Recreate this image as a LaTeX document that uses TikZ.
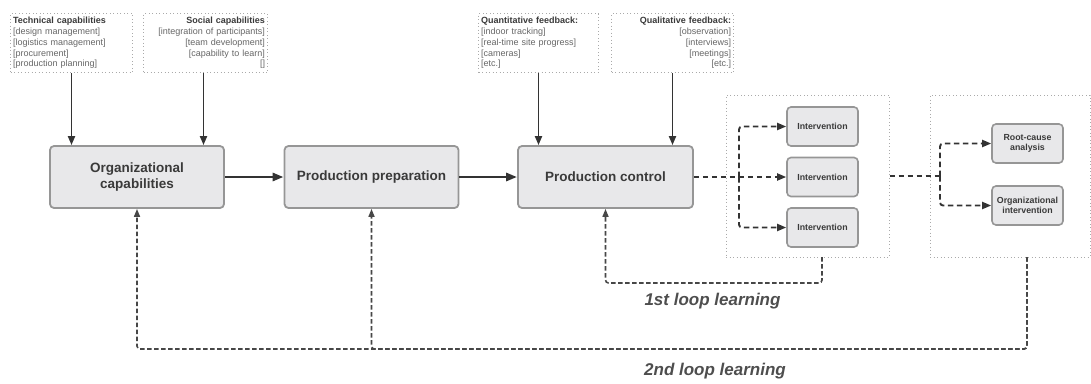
\documentclass[tikz,border=0pt]{standalone}
\usepackage{fontspec}
\setmainfont{Liberation Sans}
\usetikzlibrary{arrows.meta,calc}
\definecolor{boxfill}{HTML}{E8E8EA}
\definecolor{boxdraw}{HTML}{969696}
\definecolor{txtdark}{HTML}{3A3A3A}
\definecolor{txtgray}{HTML}{666666}
\definecolor{linedark}{HTML}{333333}
\definecolor{dotgray}{HTML}{AAAAAA}
\tikzset{
  mainbox/.style={draw=boxdraw, fill=boxfill, line width=1.8pt, rounded corners=4pt,
    minimum width=174pt, minimum height=62pt, align=center, text=txtdark,
    font=\fontsize{13.5}{16}\selectfont\bfseries},
  smallbox/.style={draw=boxdraw, fill=boxfill, line width=1.6pt, rounded corners=4pt,
    minimum width=71pt, minimum height=39pt, align=center, text=txtdark, inner sep=1pt,
    font=\fontsize{8.8}{10}\selectfont\bfseries},
  infobox/.style={draw=dotgray, line width=1pt, dash pattern=on 0.9pt off 2.6pt,
    minimum height=59pt, inner xsep=2.5pt, inner ysep=0pt, text=txtgray,
    font=\fontsize{9}{10.7}\selectfont},
  container/.style={draw=dotgray, line width=1pt, dash pattern=on 0.9pt off 2.6pt},
  feed/.style={draw=linedark, line width=1.9pt, -{Triangle[length=9pt,width=7pt]}},
  flow/.style={draw=linedark, line width=2.8pt, -{Triangle[length=11pt,width=8pt]}},
  dashflow/.style={draw=linedark, line width=1.9pt, dash pattern=on 5.5pt off 3.5pt,
    rounded corners=3pt, -{Triangle[length=9pt,width=7pt]}},
  loopline/.style={draw=linedark!90, line width=1.6pt, dash pattern=on 4.5pt off 2.5pt,
    rounded corners=3pt},
  looplabel/.style={text=txtdark!90, font=\fontsize{17}{20}\selectfont\bfseries\itshape},
}
\begin{document}
\begin{tikzpicture}[x=1pt,y=-1pt]
\useasboundingbox (0,0) rectangle (1091,383);

% top info boxes
\node[infobox, text width=117pt, align=left, anchor=north west] (tech) at (10,13)
  {\textcolor{txtdark}{\textbf{Technical capabilities}}\\{[}design management{]}\\{[}logistics management{]}\\{[}procurement{]}\\{[}production planning{]}};
\node[infobox, text width=119pt, align=right, anchor=north west] (soc) at (143,13)
  {\textcolor{txtdark}{\textbf{Social capabilities}}\\{[}integration of participants{]}\\{[}team development{]}\\{[}capability to learn{]}\\{[]}};
\node[infobox, text width=115pt, align=left, anchor=north west] (quant) at (478,13)
  {\textcolor{txtdark}{\textbf{Quantitative feedback:}}\\{[}indoor tracking{]}\\{[}real-time site progress{]}\\{[}cameras{]}\\{[}etc.{]}};
\node[infobox, text width=117pt, align=right, anchor=north west] (qual) at (611,13)
  {\textcolor{txtdark}{\textbf{Qualitative feedback:}}\\{[}observation{]}\\{[}interviews{]}\\{[}meetings{]}\\{[}etc.{]}};

% main boxes
\node[mainbox] (org) at (137,177) {Organizational\\capabilities};
\node[mainbox] (prep) at (371.5,177) {Production preparation};
\node[mainbox, minimum width=175pt] (pc) at (605.5,177) {Production control};

% containers
\node[container, minimum width=163pt, minimum height=162pt] (cont1) at (807.5,176) {};
\node[container, minimum width=160pt, minimum height=162pt] (cont2) at (1010,176) {};

% interventions
\node[smallbox] (int1) at (822.5,126.5) {Intervention};
\node[smallbox] (int2) at (822.5,177) {Intervention};
\node[smallbox] (int3) at (822.5,227.5) {Intervention};
\node[smallbox] (rc) at (1027.5,143.5) {Root-cause\\analysis};
\node[smallbox] (oi) at (1027.5,205.5) {Organizational\\intervention};

% feed arrows
\draw[feed] (tech.south) -- (tech.south |- org.north);
\draw[feed] ($(soc.south)+(-2,0)$) -- ($(soc.south |- org.north)+(-2,0)$);
\draw[feed] (quant.south) -- (quant.south |- pc.north);
\draw[feed] (qual.south) -- (qual.south |- pc.north);

% main flow
\draw[flow] (org.east) -- (prep.west);
\draw[flow] (prep.east) -- (pc.west);

% interventions branching
\coordinate (j1) at (739,177);
\draw[dashflow] (pc.east) -- (int2.west);
\draw[dashflow] (j1) |- (int1.west);
\draw[dashflow] (j1) |- (int3.west);

% second branching
\coordinate (j2) at (940,176);
\draw[dashflow, -] (cont1.east) -- (j2);
\draw[dashflow] (j2) |- (rc.west);
\draw[dashflow] (j2) |- (oi.west);

% loops
\coordinate (l1s) at (822,257);
\coordinate (l2s) at (1027,257);
\draw[loopline, -{Triangle[length=8pt,width=6pt]}] (l1s) -- ++(0,26) -| (pc.south);
\draw[loopline, -{Triangle[length=8pt,width=6pt]}] (l2s) -- ++(0,92) -| (org.south);
\draw[loopline, -{Triangle[length=8pt,width=6pt]}] (l2s) -- ++(0,92) -| (prep.south);

\node[looplabel] (lab1) at (712.5,301) {1st loop learning};
\node[looplabel] (lab2) at (715,371) {2nd loop learning};
\end{tikzpicture}
\end{document}
